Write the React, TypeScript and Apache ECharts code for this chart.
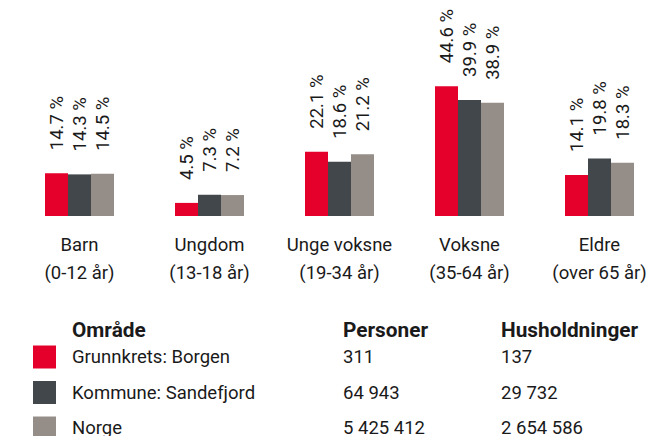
import React, { useEffect, useRef } from "react";
import * as echarts from "echarts";

const categories = ["Barn\n(0-12 år)", "Ungdom\n(13-18 år)", "Unge voksne\n(19-34 år)", "Voksne\n(35-64 år)", "Eldre\n(over 65 år)"];
const seriesNames = ["Grunnkrets: Borgen", "Kommune: Sandefjord", "Norge"];
const borgen = [14.7, 4.5, 22.1, 44.6, 14.1];
const sandefjord = [14.3, 7.3, 18.6, 39.9, 19.8];
const norge = [14.5, 7.2, 21.2, 38.9, 18.3];
const colors = ["#E4002B", "#41474A", "#958E88"];
const tableHeaders = ["Område", "Personer", "Husholdninger"];
const personer = ["311", "64 943", "5 425 412"];
const husholdninger = ["137", "29 732", "2 654 586"];

const FONT = "Roboto, 'Noto Sans', sans-serif";
const TEXT = "#1a1a1a";

export default function App() {
  const ref = useRef<HTMLDivElement>(null);
  useEffect(() => {
    if (!ref.current) return;
    const chart = echarts.init(ref.current, null, { renderer: "svg" });
    const data = [borgen, sandefjord, norge];
    const colX = [72, 343, 501];
    const headerY = 330;
    const rowY = [357, 392.5, 428];
    const graphic: any[] = [];
    tableHeaders.forEach((h, i) => {
      graphic.push({
        type: "text",
        x: colX[i],
        y: headerY,
        style: { text: h, fontSize: 20.8, fontWeight: "bold", fontFamily: FONT, fill: TEXT, verticalAlign: "middle" },
      });
    });
    seriesNames.forEach((n, i) => {
      graphic.push({
        type: "rect",
        shape: { x: 33, y: rowY[i] - 11.5, width: 23, height: 23 },
        style: { fill: colors[i] },
      });
      graphic.push({
        type: "text",
        x: colX[0],
        y: rowY[i],
        style: { text: n, fontSize: 18.5, fontFamily: FONT, fill: TEXT, verticalAlign: "middle" },
      });
      graphic.push({
        type: "text",
        x: colX[1],
        y: rowY[i],
        style: { text: personer[i], fontSize: 18.5, fontFamily: FONT, fill: TEXT, verticalAlign: "middle" },
      });
      graphic.push({
        type: "text",
        x: colX[2],
        y: rowY[i],
        style: { text: husholdninger[i], fontSize: 18.5, fontFamily: FONT, fill: TEXT, verticalAlign: "middle" },
      });
    });

    chart.setOption({
      animation: false,
      grid: { left: 14.5, width: 650, top: 41.4, bottom: 220 },
      xAxis: {
        type: "category",
        data: categories,
        axisLine: { show: false },
        axisTick: { show: false },
        axisLabel: { margin: 15, fontSize: 18.5, lineHeight: 28, fontFamily: FONT, color: TEXT, interval: 0 },
      },
      yAxis: { type: "value", min: 0, max: 60, show: false, splitLine: { show: false } },
      series: seriesNames.map((n, i) => ({
        name: n,
        type: "bar",
        data: data[i],
        barWidth: 23,
        barGap: "0%",
        itemStyle: { color: colors[i] },
        label: {
          show: true,
          position: "top",
          distance: 23,
          rotate: 90,
          align: "left",
          verticalAlign: "middle",
          fontSize: 18.5,
          fontFamily: FONT,
          color: TEXT,
          formatter: (p: any) => p.value.toFixed(1) + " %",
        },
      })),
      graphic,
    });
    return () => chart.dispose();
  }, []);
  return (
    <div style={{ position: "absolute", left: 0, top: 0, width: 648, height: 436, overflow: "hidden" }}>
      <div ref={ref} style={{ width: 700, height: 436 }} />
    </div>
  );
}
